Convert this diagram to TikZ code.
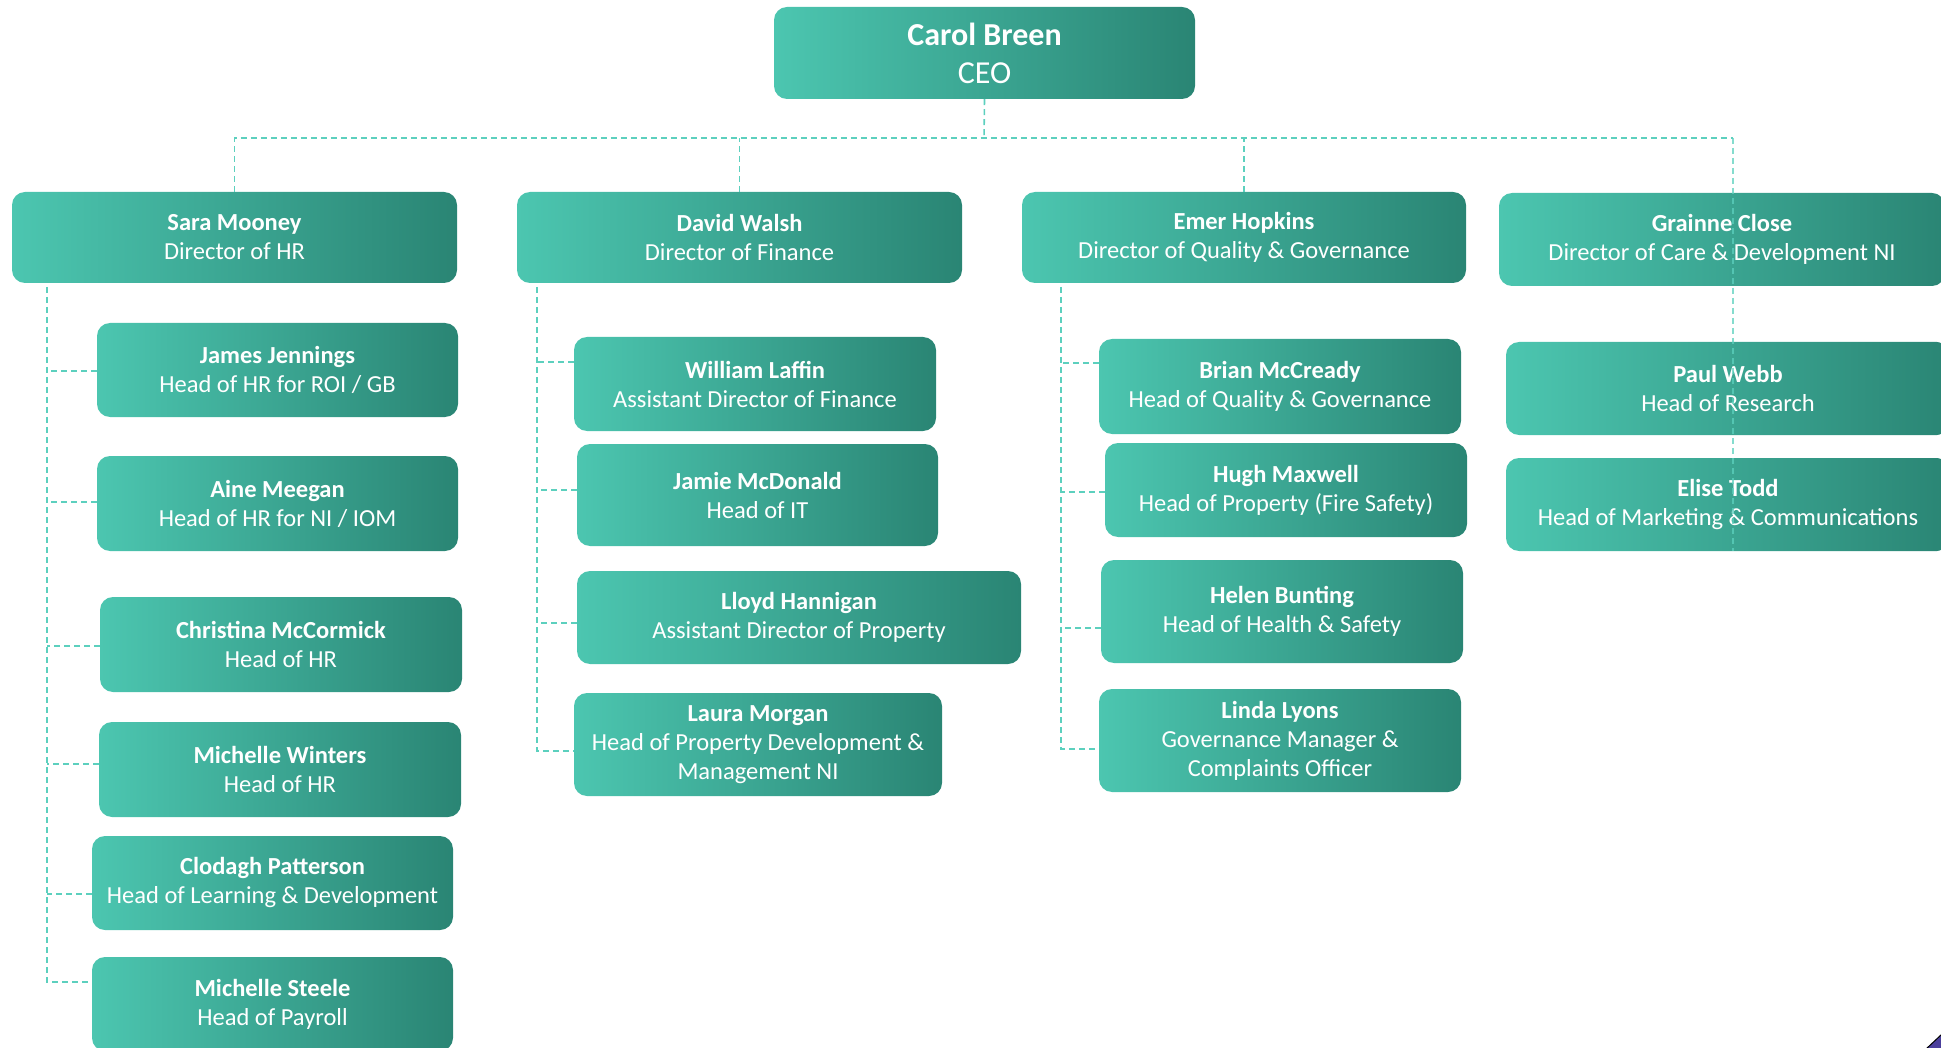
\documentclass[tikz,border=0pt]{standalone}
\usepackage{fontspec}
\setmainfont{Carlito}
\usetikzlibrary{calc}
\definecolor{tealL}{HTML}{4CC6B0}
\definecolor{tealD}{HTML}{2A8574}
\definecolor{lineC}{HTML}{5CD0BE}
\definecolor{cornerC}{HTML}{4B3F9C}
\begin{document}
\begin{tikzpicture}[x=1pt,y=-1pt,
  card/.style={rounded corners=13pt, left color=tealL, right color=tealD, draw=none,
    text=white, align=center, inner sep=0pt, font=\fontsize{24.5}{29}\selectfont},
  conn/.style={draw=lineC, line width=1.6pt, dash pattern=on 6pt off 4pt}]
\useasboundingbox (0,0) rectangle (1941,1048);
\clip (0,0) rectangle (1941,1048);

% CEO
\node[card, minimum width=421pt, minimum height=92pt, font=\fontsize{32}{38}\selectfont] (ceo) at (984.5,53) {\textbf{Carol Breen}\\CEO};

% Directors
\node[card, minimum width=445pt, minimum height=91pt] (sara) at (234.5,237.5) {\textbf{Sara Mooney}\\Director of HR};
\node[card, minimum width=445pt, minimum height=91pt] (david) at (739.5,237.5) {\textbf{David Walsh}\\Director of Finance};
\node[card, minimum width=444pt, minimum height=91pt] (emer) at (1244,237.5) {\textbf{Emer Hopkins}\\Director of Quality \& Governance};
\node[card, minimum width=446pt, minimum height=93pt] (grainne) at (1722,239.5) {\textbf{Grainne Close}\\Director of Care \& Development NI};

% HR
\node[card, minimum width=361pt, minimum height=94pt] (james) at (277.5,370) {\textbf{James Jennings}\\Head of HR for ROI / GB};
\node[card, minimum width=361pt, minimum height=95pt] (aine) at (277.5,503.5) {\textbf{Aine Meegan}\\Head of HR for NI / IOM};
\node[card, minimum width=362pt, minimum height=95pt] (christina) at (281,644.5) {\textbf{Christina McCormick}\\Head of HR};
\node[card, minimum width=362pt, minimum height=95pt] (mwinters) at (280,769.5) {\textbf{Michelle Winters}\\Head of HR};
\node[card, minimum width=361pt, minimum height=94pt] (clodagh) at (272.5,883) {\textbf{Clodagh Patterson}\\Head of Learning \& Development};
\node[card, minimum width=361pt, minimum height=94pt] (steele) at (272.5,1004) {\textbf{Michelle Steele}\\Head of Payroll};

% Finance
\node[card, minimum width=362pt, minimum height=94pt] (william) at (755,384) {\textbf{William Laffin}\\Assistant Director of Finance};
\node[card, minimum width=361pt, minimum height=102pt] (jamie) at (757.5,495) {\textbf{Jamie McDonald}\\Head of IT};
\node[card, minimum width=444pt, minimum height=93pt] (lloyd) at (799,617.5) {\textbf{Lloyd Hannigan}\\Assistant Director of Property};
\node[card, minimum width=368pt, minimum height=103pt] (laura) at (758,744.5) {\textbf{Laura Morgan}\\Head of Property Development \&\\Management NI};

% Quality
\node[card, minimum width=362pt, minimum height=95pt] (brian) at (1280,386.5) {\textbf{Brian McCready}\\Head of Quality \& Governance};
\node[card, minimum width=362pt, minimum height=94pt] (hugh) at (1286,490) {\textbf{Hugh Maxwell}\\Head of Property (Fire Safety)};
\node[card, minimum width=362pt, minimum height=103pt] (helen) at (1282,611.5) {\textbf{Helen Bunting}\\Head of Health \& Safety};
\node[card, minimum width=362pt, minimum height=103pt] (linda) at (1280,740.5) {\textbf{Linda Lyons}\\Governance Manager \&\\Complaints Officer};

% Care
\node[card, minimum width=444pt, minimum height=93pt] (paul) at (1728,388.5) {\textbf{Paul Webb}\\Head of Research};
\node[card, minimum width=444pt, minimum height=93pt] (elise) at (1728,504.5) {\textbf{Elise Todd}\\Head of Marketing \& Communications};

% Connectors
\coordinate (bus) at (984,138);
\coordinate (busR) at (1733,138);
\draw[conn] (ceo.south) -- (bus);
\draw[conn] (sara.north) -- (sara.north |- bus) -- (busR);
\draw[conn] (david.north) -- (david.north |- bus);
\draw[conn] (emer.north) -- (emer.north |- bus);

\coordinate (hrS) at (47,287);
\draw[conn] (hrS) -- (hrS |- 0,982) -- (steele.west |- 0,982);
\foreach \n/\y in {james/371, aine/502, christina/646, mwinters/764, clodagh/894}
  \draw[conn] (\n.west |- 0,\y) -- (hrS |- 0,\y);

\coordinate (fiS) at (537,287);
\draw[conn] (fiS) -- (fiS |- 0,751) -- (laura.west |- 0,751);
\foreach \n/\y in {william/362, jamie/490, lloyd/623}
  \draw[conn] (\n.west |- 0,\y) -- (fiS |- 0,\y);

\coordinate (quS) at (1061,287);
\draw[conn] (quS) -- (quS |- 0,749) -- (linda.west |- 0,749);
\foreach \n/\y in {brian/363, hugh/492, helen/628}
  \draw[conn] (\n.west |- 0,\y) -- (quS |- 0,\y);

\draw[conn, opacity=0.75] (busR) -- (busR |- elise.south);

% corner fragment
\fill[cornerC, draw=black, line width=1pt] (1926,1049) -- (1942,1034) -- (1942,1049) -- cycle;
\end{tikzpicture}
\end{document}
